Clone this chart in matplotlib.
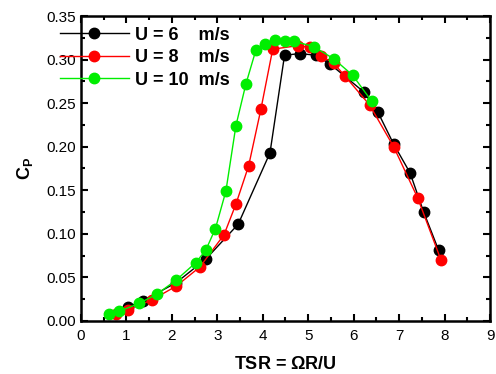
import numpy as np
import matplotlib
matplotlib.use("Agg")
import matplotlib.pyplot as plt
from matplotlib.ticker import MultipleLocator
from matplotlib.legend_handler import HandlerLine2D

plt.rcParams['font.family'] = ['Liberation Sans', 'DejaVu Sans']
plt.rcParams['mathtext.fontset'] = 'custom'
plt.rcParams['mathtext.rm'] = 'Liberation Sans'
plt.rcParams['mathtext.bf'] = 'Liberation Sans:bold'

# U = 6 m/s
tsr6 = [1.03, 1.37, 2.10, 2.75, 3.46, 4.16, 4.48, 4.82, 5.17, 5.48, 6.22, 6.53, 6.88, 7.24, 7.54, 7.87]
cp6 = [0.016, 0.023, 0.044, 0.071, 0.111, 0.193, 0.305, 0.307, 0.305, 0.295, 0.263, 0.240, 0.203, 0.170, 0.125, 0.081]
# U = 8 m/s
tsr8 = [0.77, 1.04, 1.56, 2.10, 2.62, 3.15, 3.41, 3.69, 3.96, 4.22, 4.77, 5.04, 5.29, 5.56, 5.81, 6.35, 6.88, 7.41, 7.92]
cp8 = [0.008, 0.013, 0.024, 0.040, 0.062, 0.099, 0.134, 0.178, 0.243, 0.312, 0.316, 0.314, 0.304, 0.296, 0.281, 0.248, 0.200, 0.141, 0.070]
# U = 10 m/s
tsr10 = [0.62, 0.84, 1.28, 1.68, 2.10, 2.53, 2.75, 2.96, 3.19, 3.41, 3.63, 3.85, 4.05, 4.27, 4.48, 4.69, 5.12, 5.56, 5.98, 6.40]
cp10 = [0.008, 0.011, 0.020, 0.031, 0.047, 0.067, 0.0815, 0.106, 0.149, 0.224, 0.272, 0.311, 0.318, 0.322, 0.321, 0.321, 0.315, 0.301, 0.282, 0.252]


class OffsetMarkerHandler(HandlerLine2D):
    # marker sits right of the middle of the legend line
    def get_xdata(self, legend, xdescent, ydescent, width, height, fontsize):
        xdata = np.array([-xdescent, -xdescent + width])
        return xdata, np.array([-xdescent + 0.67 * width])


fig = plt.figure(figsize=(4.96, 3.74), dpi=100)
ax = fig.add_axes([0.163, 0.142, 0.825, 0.815])

ax.plot(tsr6, cp6, '-o', color='black', mfc='black', mec='black', ms=7.5, lw=1, label='U = 6    m/s')
ax.plot(tsr8, cp8, '-o', color='red', mfc='red', mec='red', ms=7.5, lw=1, label='U = 8    m/s')
ax.plot(tsr10, cp10, '-o', color='#00ee00', mfc='#00ee00', mec='#00ee00', ms=7.5, lw=1, label='U = 10  m/s')

ax.set_xlim(0, 9)
ax.set_ylim(0, 0.35)
ax.xaxis.set_major_locator(MultipleLocator(1))
ax.xaxis.set_minor_locator(MultipleLocator(0.5))
ax.yaxis.set_major_locator(MultipleLocator(0.05))
ax.yaxis.set_minor_locator(MultipleLocator(0.025))
ax.yaxis.set_major_formatter(matplotlib.ticker.FormatStrFormatter('%.2f'))
ax.tick_params(which='both', direction='in', top=True, right=True, width=1.5, labelsize=11)
ax.tick_params(which='major', length=5)
ax.tick_params(which='minor', length=3)
ax.tick_params(axis='x', pad=6)
for s in ax.spines.values():
    s.set_linewidth(1.8)

ax.set_xlabel(r'TSR = $\mathbf{\Omega}$R/U', fontsize=13, fontweight='bold', labelpad=9)
ax.set_ylabel(r'C$_\mathbf{P}$', fontsize=13, fontweight='bold', labelpad=8)

leg = ax.legend(loc='upper left', bbox_to_anchor=(-0.051, 0.965), frameon=False,
                prop={'weight': 'bold', 'size': 13}, borderpad=0, borderaxespad=0,
                handlelength=3.8, labelspacing=0.3, handletextpad=0.35,
                handler_map={matplotlib.lines.Line2D: OffsetMarkerHandler()})

fig.savefig('out.png', dpi=100)
